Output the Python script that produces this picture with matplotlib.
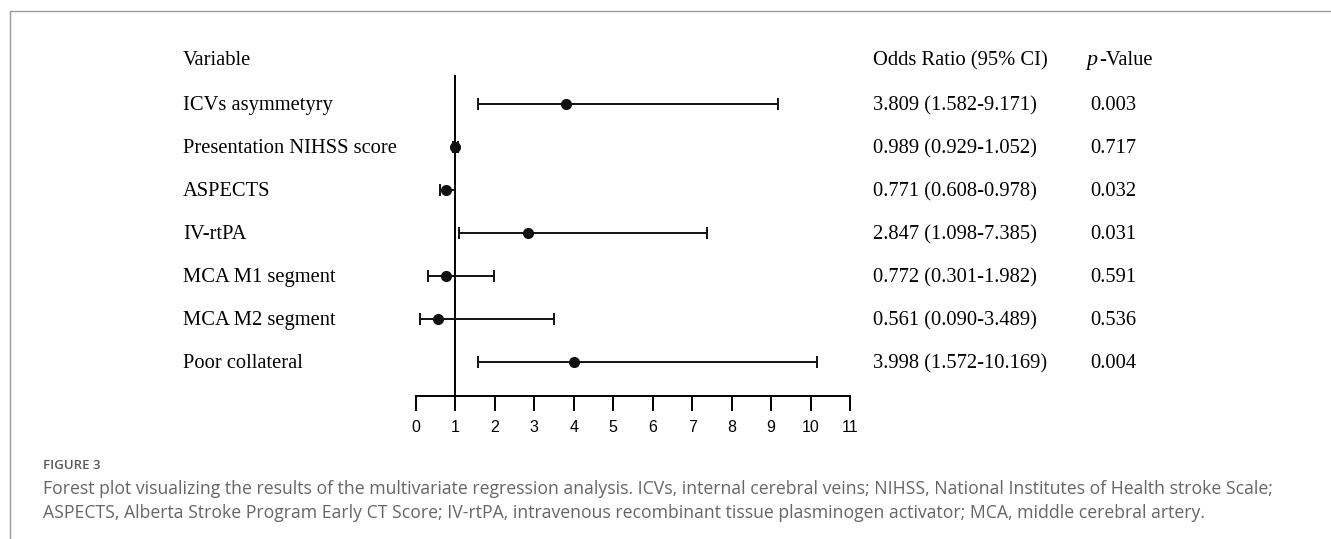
import matplotlib
matplotlib.use("Agg")
import matplotlib.pyplot as plt
from matplotlib.lines import Line2D

# data
variables = ["ICVs asymmetyry", "Presentation NIHSS score", "ASPECTS", "IV-rtPA",
             "MCA M1 segment", "MCA M2 segment", "Poor collateral"]
odds = [3.809, 0.989, 0.771, 2.847, 0.772, 0.561, 3.998]
ci_low = [1.582, 0.929, 0.608, 1.098, 0.301, 0.090, 1.572]
ci_high = [9.171, 1.052, 0.978, 7.385, 1.982, 3.489, 10.169]
p_values = ["0.003", "0.717", "0.032", "0.031", "0.591", "0.536", "0.004"]
xticks = list(range(0, 12))

W, H = 1331, 539
fig = plt.figure(figsize=(W / 100, H / 100), dpi=100)

serif = "Liberation Serif"
fs = 14.8

# pixel helpers
def fx(px):
    return px / W

def fy(py):
    return 1 - py / H

row_top, row_step = 104, 43
ax_top, ax_bot = 75, 396
ax_left, ax_right = 416, 850
ax = fig.add_axes([fx(ax_left), fy(ax_bot), fx(ax_right - ax_left), (ax_bot - ax_top) / H])
n = len(variables)
ax.set_xlim(0, 11)
ax.set_ylim((ax_bot - row_top) / row_step, (ax_top - row_top) / row_step)

ax.axvline(1, color="black", lw=1.4)
for i in range(n):
    ax.errorbar(odds[i], i, xerr=[[odds[i] - ci_low[i]], [ci_high[i] - odds[i]]],
                fmt="o", color="#111111", ms=7, elinewidth=1.4, capsize=4, capthick=1.4)

for s in ["left", "top", "right"]:
    ax.spines[s].set_visible(False)
ax.spines["bottom"].set_linewidth(1.4)
ax.set_yticks([])
ax.set_xticks(xticks)
ax.tick_params(axis="x", direction="out", length=11, width=1.4, pad=6,
               labelsize=11.5)
for lab in ax.get_xticklabels():
    lab.set_fontfamily("Liberation Sans")

# table text (baselines sit ~6 px under the row centre)
base = 6
fig.text(fx(183), fy(59 + base), "Variable", family=serif, fontsize=fs, va="baseline")
fig.text(fx(873), fy(59 + base), "Odds Ratio (95% CI)", family=serif, fontsize=fs,
         va="baseline")
fig.text(fx(1086), fy(59 + base), "p", family=serif, fontsize=fs + 1, va="baseline",
         fontstyle="italic")
fig.text(fx(1099), fy(59 + base), "-Value", family=serif, fontsize=fs, va="baseline")
for i in range(n):
    y = row_top + i * row_step + base
    fig.text(fx(183), fy(y), variables[i], family=serif, fontsize=fs, va="baseline")
    fig.text(fx(873), fy(y), "%.3f (%.3f-%.3f)" % (odds[i], ci_low[i], ci_high[i]),
             family=serif, fontsize=fs, va="baseline")
    fig.text(fx(1090), fy(y), p_values[i], family=serif, fontsize=fs, va="baseline")

# caption
cap = "Open Sans"
fig.text(fx(43), fy(469), "FIGURE 3", family=cap, fontsize=9.5, fontweight="semibold",
         color="#5a5a5a", va="baseline")
fig.text(fx(43), fy(494),
         "Forest plot visualizing the results of the multivariate regression analysis. "
         "ICVs, internal cerebral veins; NIHSS, National Institutes of Health stroke Scale;",
         family=cap, fontsize=12.7, color="#666666", va="baseline")
fig.text(fx(43), fy(518),
         "ASPECTS, Alberta Stroke Program Early CT Score; IV-rtPA, intravenous recombinant "
         "tissue plasminogen activator; MCA, middle cerebral artery.",
         family=cap, fontsize=12.7, color="#666666", va="baseline")

# card border
fig.add_artist(Line2D([fx(9.5), fx(9.5), 1], [0, fy(11), fy(11)],
                      transform=fig.transFigure, color="#999999", lw=1))

fig.savefig("out.png", dpi=100)
